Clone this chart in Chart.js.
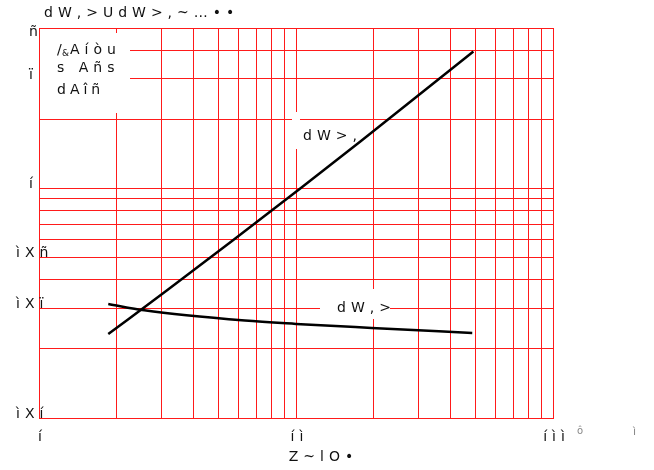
<!DOCTYPE html>
<html>
<head>
<meta charset="utf-8">
<script src="https://cdn.jsdelivr.net/npm/chart.js@4.4.1/dist/chart.umd.min.js"></script>
<style>
    html, body { margin: 0; padding: 0; background: #fff; }
    #wrap { width: 654px; height: 470px; }
</style>
</head>
<body>
<div id="wrap"><canvas id="chart" width="654" height="470"></canvas></div>
<script>
// grid lines (log decades) and labelled ticks
const xGridValues = [1, 2, 3, 4, 5, 6, 7, 8, 9, 10, 20, 30, 40, 50, 60, 70, 80, 90, 100];
const yGridValues = [0.1, 0.2, 0.3, 0.4, 0.5, 0.6, 0.7, 0.8, 0.9, 1, 2, 3, 4, 5];
const xTickValues = [1, 10, 100];
const xTickLabels = ['í', 'íì', 'íìì'];
const yTickValues = [0.1, 0.3, 0.5, 1, 3, 5];
const yTickLabels = ['ìXí', 'ìXï', 'ìXñ', 'í', 'ï', 'ñ'];

// curve "dW>," (rising)
const seriesAX = [1.86, 3.16, 5.62, 10, 17.8, 31.6, 49.0];
const seriesAY = [0.232, 0.361, 0.589, 0.968, 1.60, 2.67, 3.95];
// curve "dW,>" (falling slowly)
const seriesBX = [1.86, 2.57, 6.33, 10, 19.7, 48.5];
const seriesBY = [0.314, 0.2945, 0.2656, 0.257, 0.2469, 0.2348];

const titleText = 'dW,>UdW>,~…••';
const xTitleText = 'Z~lO•';
const labelA = 'dW>,';
const labelB = 'dW,>';

const FONT = '14px "DejaVu Sans"';

// draws text char by char with extra gap between glyphs
function spacedText(ctx, text, x, y, gap, align) {
    const chars = [...text];
    const widths = chars.map(ch => ctx.measureText(ch).width);
    const total = widths.reduce((a, b) => a + b, 0) + gap * (chars.length - 1);
    let cx = x;
    if (align === 'center') cx = x - total / 2;
    else if (align === 'right') cx = x - total;
    chars.forEach((ch, i) => {
        ctx.fillText(ch, cx, y);
        cx += widths[i] + gap;
    });
}

const overlayPlugin = {
    id: 'overlay',
    beforeDatasetsDraw(chart) {
        const ctx = chart.ctx;
        ctx.save();
        ctx.fillStyle = '#fff';
        ctx.fillRect(40, 33, 90, 80);    // condition box, top left
        ctx.fillRect(290, 124, 76, 25);  // label A
        ctx.fillRect(292, 112, 8, 14);
        ctx.fillRect(320, 289, 70, 30);  // label B
        ctx.restore();
    },
    afterDraw(chart) {
        const ctx = chart.ctx;
        const xs = chart.scales.x;
        const ys = chart.scales.y;
        ctx.save();
        ctx.fillStyle = '#111';
        ctx.font = FONT;
        ctx.textAlign = 'left';
        ctx.textBaseline = 'middle';

        spacedText(ctx, titleText, 44, 13, 5, 'left');

        // tick labels
        xTickValues.forEach((v, i) => {
            spacedText(ctx, xTickLabels[i], xs.getPixelForValue(v) + 1, 437, 5, 'center');
        });
        yTickValues.forEach((v, i) => {
            const lbl = yTickLabels[i];
            const y = Math.max(ys.getPixelForValue(v) - 4, chart.chartArea.top + 4);
            spacedText(ctx, lbl, lbl.length > 1 ? 16 : 29, y, 5, 'left');
        });

        spacedText(ctx, xTitleText, 321, 457, 5, 'center');

        // condition box text
        ctx.fillText('/', 57, 50);
        ctx.font = '9px "DejaVu Sans"';
        ctx.fillText('&', 62, 54);
        ctx.font = FONT;
        spacedText(ctx, 'Aíòu', 70, 50, 5, 'left');
        spacedText(ctx, 's Añs', 57, 68, 5, 'left');
        spacedText(ctx, 'dAîñ', 57, 90, 4, 'left');

        // curve labels
        spacedText(ctx, labelA, 303, 136, 5, 'left');
        spacedText(ctx, labelB, 337, 308, 5, 'left');

        // stray marks at bottom right
        ctx.fillStyle = '#888';
        ctx.font = '10px "DejaVu Sans"';
        ctx.fillText('ô', 577, 431);
        ctx.font = '11px "DejaVu Sans"';
        ctx.fillText('ì', 633, 432);
        ctx.restore();
    }
};

document.addEventListener('DOMContentLoaded', () => {
    const ctx = document.getElementById('chart').getContext('2d');
    const toPoints = (xsArr, ysArr) => xsArr.map((x, i) => ({ x: x, y: ysArr[i] }));

    new Chart(ctx, {
        type: 'line',
        data: {
            datasets: [
                {
                    data: toPoints(seriesAX, seriesAY),
                    borderColor: '#000',
                    borderWidth: 2.5,
                    pointRadius: 0,
                    cubicInterpolationMode: 'monotone',
                    fill: false
                },
                {
                    data: toPoints(seriesBX, seriesBY),
                    borderColor: '#000',
                    borderWidth: 2.5,
                    pointRadius: 0,
                    cubicInterpolationMode: 'monotone',
                    fill: false
                }
            ]
        },
        options: {
            responsive: false,
            animation: false,
            layout: { padding: { left: 39, top: 28, right: 101, bottom: 52 } },
            plugins: {
                legend: { display: false },
                tooltip: { enabled: false },
                title: { display: false }
            },
            scales: {
                x: {
                    type: 'logarithmic',
                    min: 1,
                    max: 100,
                    afterBuildTicks: scale => { scale.ticks = xGridValues.map(v => ({ value: v })); },
                    afterFit: scale => { scale.height = 0; },
                    ticks: { display: false },
                    grid: { color: '#ff1a1a', lineWidth: 1, drawTicks: false },
                    border: { color: '#ff1a1a', width: 1 }
                },
                y: {
                    type: 'logarithmic',
                    min: 0.1,
                    max: 5,
                    afterBuildTicks: scale => { scale.ticks = yGridValues.map(v => ({ value: v })); },
                    afterFit: scale => { scale.width = 0; },
                    ticks: { display: false },
                    grid: { color: '#ff1a1a', lineWidth: 1, drawTicks: false },
                    border: { color: '#ff1a1a', width: 1 }
                }
            }
        },
        plugins: [overlayPlugin]
    });
});
</script>
</body>
</html>
